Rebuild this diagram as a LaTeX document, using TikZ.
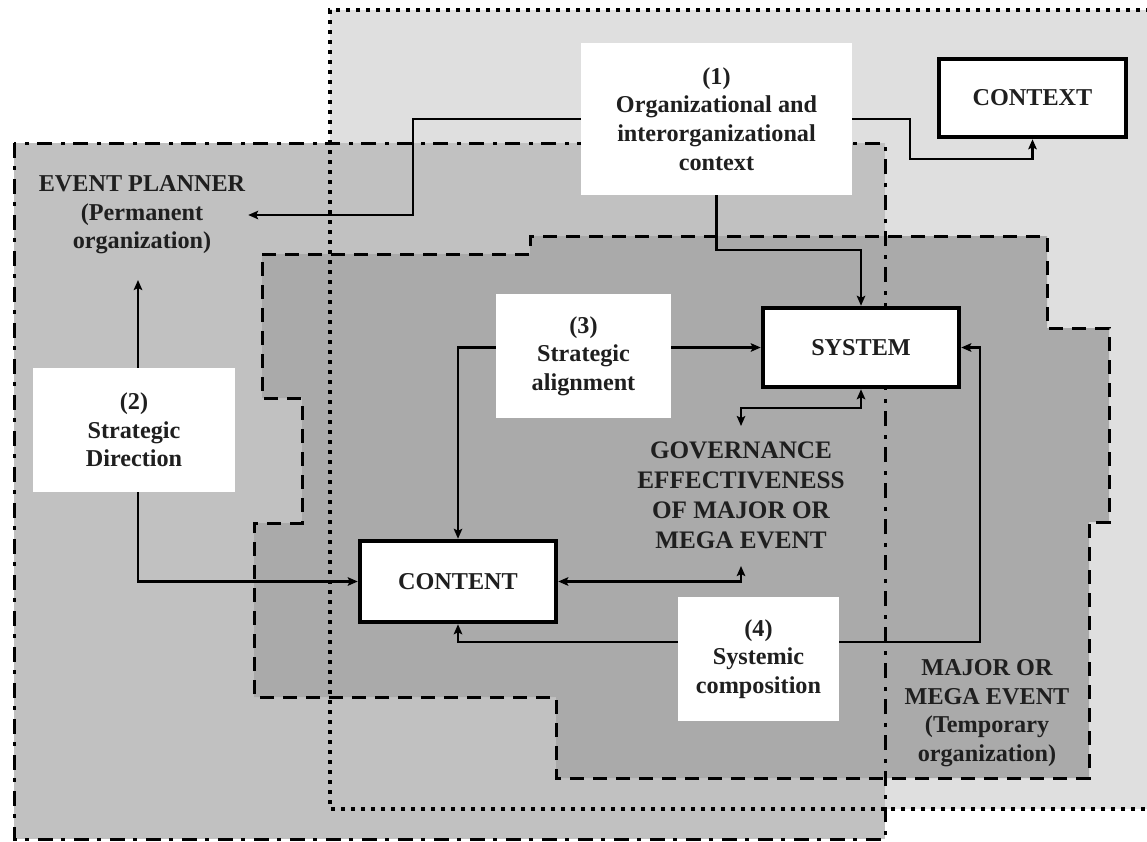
\documentclass[tikz,border=0pt]{standalone}
\usepackage{fontspec}
\setmainfont{Liberation Serif}
\usetikzlibrary{arrows.meta}

\definecolor{ctxfill}{gray}{0.875}
\definecolor{planfill}{gray}{0.755}
\definecolor{megafill}{gray}{0.665}
\definecolor{ink}{gray}{0.12}

\begin{document}
\begin{tikzpicture}[x=1pt,y=-1pt,
  txt/.style={font=\fontsize{24.2}{28.6}\selectfont\bfseries, text=ink, align=center},
  plainbox/.style={txt, fill=white, inner sep=0pt},
  framedbox/.style={txt, fill=white, draw=black, line width=4.5pt, inner sep=0pt},
  regionlabel/.style={txt, inner sep=0pt},
  tip/.style={-{Stealth[length=10pt,width=8.5pt,inset=2pt]}},
  link/.style={line width=2.4pt, tip},
  twoway/.style={line width=2.4pt, {Stealth[length=10pt,width=8.5pt,inset=2pt]}-{Stealth[length=10pt,width=8.5pt,inset=2pt]}},
  ctxborder/.style={line width=3.6pt, dash pattern=on 4pt off 6pt},
  planborder/.style={line width=3pt, dash pattern=on 15pt off 8pt on 4pt off 9pt},
  megaborder/.style={line width=3pt, dash pattern=on 14pt off 9pt},
]
\useasboundingbox (0,0) rectangle (1147,841);
\fill[white] (0,0) rectangle (1147,841);

% nested regions: context, event planner, major/mega event
\begin{scope}
  \clip (0,0) rectangle (1147,841);
  \fill[ctxfill] (330,10) rectangle (1170,809);
  \fill[planfill] (14,143) rectangle (885,839);
  \fill[megafill] (262,254) -- (530,254) -- (530,236) -- (1047,236) -- (1047,328)
    -- (1109,328) -- (1109,522) -- (1089,522) -- (1089,778) -- (556,778) -- (556,697)
    -- (254,697) -- (254,523) -- (302,523) -- (302,398) -- (262,398) -- cycle;
  \draw[ctxborder] (1170,10) -- (330,10) -- (330,809) -- (1170,809);
  \draw[planborder] (14,143) rectangle (885,839);
  \draw[megaborder] (262,254) -- (530,254) -- (530,236) -- (1047,236) -- (1047,328)
    -- (1109,328) -- (1109,522) -- (1089,522) -- (1089,778) -- (556,778) -- (556,697)
    -- (254,697) -- (254,523) -- (302,523) -- (302,398) -- (262,398) -- cycle;
\end{scope}

% region labels
\node[regionlabel, outer sep=3pt] (planner) at (142,215) {EVENT PLANNER\\(Permanent\\organization)};
\node[regionlabel] (mega) at (987,713) {MAJOR OR\\MEGA EVENT\\(Temporary\\organization)};
\node[regionlabel, font=\fontsize{25.2}{30}\selectfont\bfseries] (gov) at (741,495)
  {GOVERNANCE\\EFFECTIVENESS\\OF MAJOR OR\\MEGA EVENT};
\coordinate (govN) at (741,426);
\coordinate (govS) at (741,566);

% numbered dimensions
\node[plainbox, minimum width=271pt, minimum height=152pt] (c1) at (716.5,119)
  {(1)\\Organizational and\\interorganizational\\context};
\node[plainbox, minimum width=202pt, minimum height=124pt] (c2) at (134,430)
  {(2)\\Strategic\\Direction};
\node[plainbox, minimum width=175pt, minimum height=124pt] (c3) at (583.5,356)
  {(3)\\Strategic\\alignment};
\node[plainbox, minimum width=161pt, minimum height=124pt] (c4) at (758.5,659)
  {(4)\\Systemic\\composition};

% framed elements
\node[framedbox, minimum width=187pt, minimum height=78pt] (ctx) at (1032.5,98) {CONTEXT};
\node[framedbox, minimum width=196pt, minimum height=79pt] (sys) at (861,347.5) {SYSTEM};
\node[framedbox, minimum width=196pt, minimum height=81pt] (content) at (458,581.5) {CONTENT};

\coordinate (dirtip) at (138,280);

% connectors
\draw[link] (c1.west) -- ++(-168,0) |- (planner.east);
\draw[link] (c1.east) -- ++(58,0) |- ([yshift=-20pt]ctx.south) -- (ctx.south);
\draw[link] (c1.south) |- ([yshift=56pt]sys.north) -- (sys.north);
\draw[link] (c2.north -| dirtip) -- (dirtip);
\draw[link] (c2.south -| dirtip) |- (content.west);
\draw[link] (c3.west |- sys.west) -| (content.north);
\draw[link] (c3.east |- sys.west) -- (sys.west);
\draw[twoway] (sys.south) -- ++(0,19) -| (govN);
\draw[twoway] (content.east) -| (govS);
\draw[link] ([yshift=17pt]c4.west) -| (content.south);
\draw[link] ([yshift=17pt]c4.east) -| ([xshift=19pt]sys.east) -- (sys.east);
\end{tikzpicture}
\end{document}
